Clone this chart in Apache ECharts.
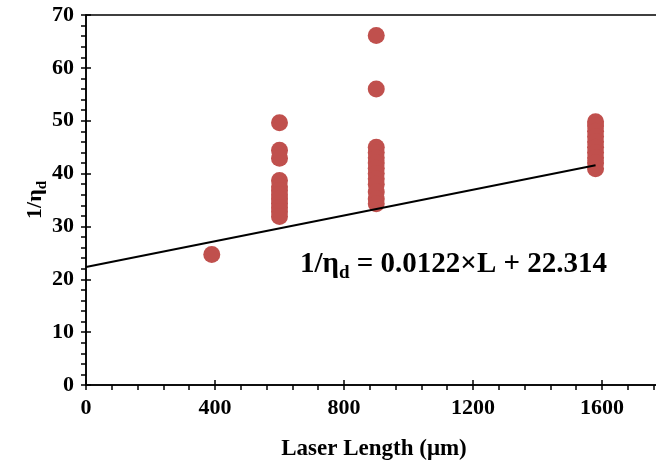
<!DOCTYPE html>
<html>
<head>
<meta charset="utf-8">
<script src="https://cdn.jsdelivr.net/npm/echarts@6/dist/echarts.min.js"></script>
<style>html,body{margin:0;padding:0;background:#fff}#c{width:656px;height:465px}</style>
</head>
<body>
<div id="c"></div>
<script>
// Data
const len390 = [390];
const eta390 = [24.7];
const len600 = [600, 600, 600, 600, 600, 600, 600, 600, 600, 600, 600, 600];
const eta600 = [49.6, 44.4, 42.9, 38.7, 37.5, 36.8, 36.0, 35.2, 34.4, 33.6, 32.8, 31.9];
const len900 = [900, 900, 900, 900, 900, 900, 900, 900, 900, 900, 900, 900, 900];
const eta900 = [66.1, 56.0, 45.0, 44.0, 43.0, 42.0, 41.0, 40.0, 39.0, 38.0, 36.5, 35.2, 34.3];
const len1580 = [1580, 1580, 1580, 1580, 1580, 1580, 1580, 1580, 1580, 1580];
const eta1580 = [49.8, 49.0, 48.0, 47.0, 46.0, 45.0, 44.0, 43.0, 42.0, 40.9];
const trendX = [0, 1580];
const trendY = [22.314, 41.59];
const xTicks = [0, 400, 800, 1200, 1600, 2000];
const yTicks = [0, 10, 20, 30, 40, 50, 60, 70];

const pts = [];
[[len390, eta390], [len600, eta600], [len900, eta900], [len1580, eta1580]].forEach(function (g) {
  g[0].forEach(function (x, i) { pts.push([x, g[1][i]]); });
});
const trend = trendX.map(function (x, i) { return [x, trendY[i]]; });

const FONT = '"Liberation Serif", "Times New Roman", serif';
const lbl = { color: '#000', fontFamily: FONT, fontWeight: 'bold', fontSize: 22, formatter: function (v) { return String(v); } };

const chart = echarts.init(document.getElementById('c'), null, { renderer: 'canvas' });
chart.setOption({
  animation: false,
  backgroundColor: '#fff',
  grid: { left: 86, top: 15, width: 645, height: 370, outerBoundsMode: 'none', containLabel: false, show: true, borderColor: '#000', borderWidth: 1.5, backgroundColor: 'transparent' },
  xAxis: [{
    type: 'value', min: xTicks[0], max: xTicks[xTicks.length - 1], interval: 400, position: 'bottom',
    axisLine: { onZero: false, lineStyle: { color: '#000', width: 1.5 } },
    axisTick: { show: true, inside: false, length: 5, lineStyle: { color: '#000', width: 1.5 } },
    minorTick: { show: true, splitNumber: 5, length: 5, lineStyle: { color: '#000', width: 1.5 } },
    splitLine: { show: false },
    axisLabel: Object.assign({ margin: 12 }, lbl)
  }, {
    type: 'value', min: xTicks[0], max: xTicks[xTicks.length - 1], interval: 400, position: 'bottom',
    axisLine: { show: false, onZero: false },
    axisTick: { show: true, inside: true, length: 5, lineStyle: { color: '#000', width: 1.5 } },
    splitLine: { show: false }, axisLabel: { show: false }
  }],
  yAxis: [{
    type: 'value', min: yTicks[0], max: yTicks[yTicks.length - 1], interval: 10, position: 'left',
    axisLine: { show: true, onZero: false, lineStyle: { color: '#000', width: 1.5 } },
    axisTick: { show: true, inside: false, length: 5, lineStyle: { color: '#000', width: 1.5 } },
    minorTick: { show: true, splitNumber: 5, length: 5, lineStyle: { color: '#000', width: 1.5 } },
    splitLine: { show: false },
    axisLabel: Object.assign({ margin: 12 }, lbl),
    name: '{a|1/η}{s|d}', nameLocation: 'middle', nameGap: 36, nameMoveOverlap: false,
    nameTextStyle: {
      rich: {
        a: { fontFamily: FONT, fontWeight: 'bold', fontSize: 22, color: '#000', verticalAlign: 'top', lineHeight: 26 },
        s: { fontFamily: FONT, fontWeight: 'bold', fontSize: 15, color: '#000', verticalAlign: 'bottom', lineHeight: 26 }
      }
    }
  }, {
    type: 'value', min: yTicks[0], max: yTicks[yTicks.length - 1], interval: 10, position: 'left',
    axisLine: { show: false, onZero: false },
    axisTick: { show: true, inside: true, length: 5, lineStyle: { color: '#000', width: 1.5 } },
    splitLine: { show: false }, axisLabel: { show: false }
  }],
  series: [{
    type: 'scatter', xAxisIndex: 0, yAxisIndex: 0, data: pts, symbol: 'circle', symbolSize: 17,
    itemStyle: { color: '#C0504D', opacity: 1 }, z: 2
  }, {
    type: 'line', xAxisIndex: 0, yAxisIndex: 0, data: trend, showSymbol: false, symbol: 'none',
    lineStyle: { color: '#000', width: 2 }, z: 3
  }],
  graphic: [{
    type: 'text', left: 300, top: 250,
    style: {
      text: '{a|1/η}{s|d}{a| = 0.0122×L + 22.314}',
      rich: {
        a: { fontFamily: FONT, fontWeight: 'bold', fontSize: 29, fill: '#000', verticalAlign: 'top', lineHeight: 33 },
        s: { fontFamily: FONT, fontWeight: 'bold', fontSize: 19, fill: '#000', verticalAlign: 'bottom', lineHeight: 33 }
      }
    }
  }, {
    type: 'text', x: 374, y: 438,
    style: { text: 'Laser Length (μm)', fontFamily: FONT, fontWeight: 'bold', fontSize: 23, fill: '#000', align: 'center' }
  }]
});
</script>
</body>
</html>
